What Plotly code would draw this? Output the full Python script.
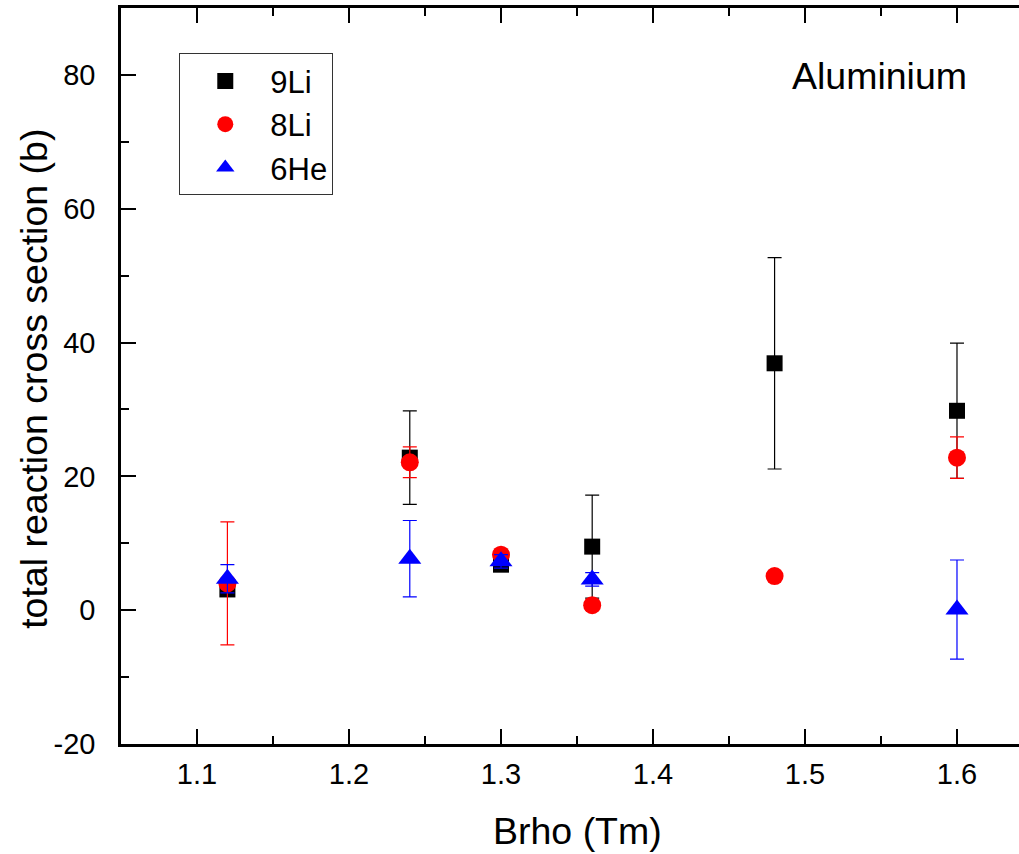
import plotly.graph_objects as go

# Magnetic rigidity settings (Tm)
brho = [1.12, 1.24, 1.30, 1.36, 1.48, 1.60]

# Total reaction cross sections (b) and their uncertainties on aluminium
li9 = [3.1, 22.8, 6.8, 9.5, 36.9, 29.8]
li9_err = [0.0, 7.0, 0.0, 7.7, 15.8, 10.1]

li8 = [4.0, 22.1, 8.3, 0.75, 5.1, 22.8]
li8_err = [9.2, 2.3, 0.7, 0.75, 0.0, 3.1]

he6 = [4.7, 7.7, 7.3, 4.6, None, 0.1]
he6_err = [2.1, 5.7, 1.0, 1.0, None, 7.4]

x_ticks = [1.1, 1.2, 1.3, 1.4, 1.5, 1.6]
y_ticks = [-20, 0, 20, 40, 60, 80]

FONT = "Liberation Sans"


def series(name, y, err, color, symbol, size):
    return go.Scatter(
        x=brho, y=y, name=name, mode="markers",
        marker=dict(color=color, symbol=symbol, size=size, line=dict(width=0)),
        error_y=dict(type="data", array=err, visible=True,
                     color=color, thickness=1.2, width=7),
    )


fig = go.Figure()
fig.add_trace(series("9Li", li9, li9_err, "black", "square", 16))
fig.add_trace(series("8Li", li8, li8_err, "red", "circle", 18))
fig.add_trace(series("6He", he6, he6_err, "blue", "triangle-up", 20))

axis_common = dict(
    showline=True, linecolor="black", linewidth=2.5,
    ticks="inside", ticklen=15, tickwidth=2, tickcolor="black",
    showgrid=False, zeroline=False,
    tickfont=dict(family=FONT, size=29, color="black"),
)

fig.update_xaxes(
    range=[1.05, 1.6408], tickvals=x_ticks,
    ticktext=[f"{v:.1f}" for v in x_ticks],
    mirror="ticks", ticklabelstandoff=2,
    minor=dict(ticks="inside", ticklen=8, tickwidth=2, tickcolor="black", dtick=0.05, tick0=1.05),
    **axis_common,
)
fig.update_yaxes(
    range=[-20, 90], tickvals=y_ticks,
    ticktext=[str(v) for v in y_ticks],
    ticklabelstandoff=17,
    minor=dict(ticks="inside", ticklen=8, tickwidth=2, tickcolor="black", dtick=10, tick0=0),
    **axis_common,
)

title_font = dict(family=FONT, size=37.5, color="black")
fig.add_annotation(text="Brho (Tm)", xref="paper", yref="paper", x=0.5083, y=-0.118,
                   xanchor="center", yanchor="middle", showarrow=False, font=title_font)
fig.add_annotation(text="total reaction cross section (b)", xref="paper", yref="paper",
                   x=-0.097, y=0.496, xanchor="center", yanchor="middle", textangle=-90,
                   showarrow=False, font=title_font)
fig.add_annotation(text="Aluminium", xref="paper", yref="paper", x=0.845, y=0.9076,
                   xanchor="center", yanchor="middle", showarrow=False, font=title_font)

fig.update_layout(
    width=1019, height=854,
    margin=dict(l=121, r=0, t=8, b=110),
    paper_bgcolor="white", plot_bgcolor="white",
    showlegend=True,
    legend=dict(x=0.0649, y=0.9385, xanchor="left", yanchor="top",
                bgcolor="white", bordercolor="#333333", borderwidth=1,
                font=dict(family=FONT, size=31, color="black"),
                itemwidth=80, tracegroupgap=0),
)

fig.write_html("out.html")
